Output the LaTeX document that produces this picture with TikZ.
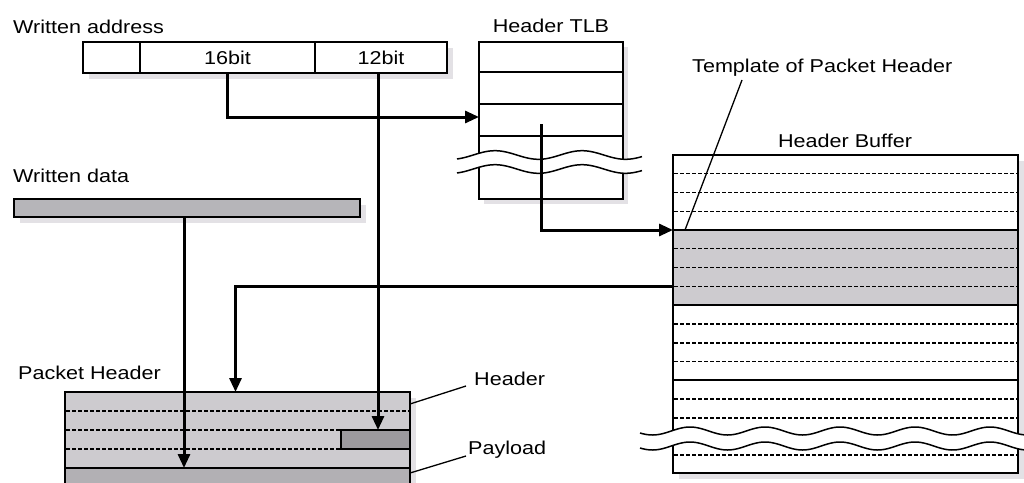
\documentclass[tikz,border=0pt]{standalone}
\usepackage{fontspec}
\setmainfont[FakeStretch=1.16]{Liberation Sans}
\usetikzlibrary{arrows.meta}
\definecolor{shadowc}{RGB}{227,225,229}
\definecolor{bandc}{RGB}{205,203,207}
\definecolor{payc}{RGB}{178,176,180}
\definecolor{datac}{RGB}{182,181,185}
\definecolor{smallc}{RGB}{156,154,158}
\tikzset{
  lbl/.style={font=\fontsize{18.6pt}{22pt}\selectfont, inner sep=0pt},
  box/.style={draw=black, line width=1.7pt, inner sep=0pt, outer sep=0pt, anchor=north west},
  dline/.style={line width=1.2pt, dash pattern=on 3.5pt off 2.5pt},
  flow/.style={draw=black, line width=3pt, -{Triangle[length=14pt,width=12pt]}},
  leader/.style={line width=1.3pt},
  wave/.style={line width=1.5pt}
}
\begin{document}
\begin{tikzpicture}[x=1pt,y=-1pt]
\useasboundingbox (0,0) rectangle (1024,482);
\clip (0,0) rectangle (1024,482);
% ---------- shadows ----------
\fill[shadowc] (89,48) rectangle (453,79);
\fill[shadowc] (484,47) rectangle (628,204);
\fill[shadowc] (679,161) rectangle (1024,479);
\fill[shadowc] (20,205) rectangle (366,223);
\fill[shadowc] (71,398) rectangle (416,490);
% ---------- written address ----------
\node[lbl, anchor=base west] (waddrlbl) at (13,33) {Written address};
\node[box, minimum width=57pt, minimum height=31pt, fill=white] (f0) at (83,42) {};
\node[box, minimum width=175pt, minimum height=31pt, fill=white, lbl, text depth=0pt] (f16) at (140,42) {16bit};
\node[box, minimum width=132pt, minimum height=31pt, fill=white, lbl, text depth=0pt] (f12) at (315,42) {12bit};
% ---------- header TLB ----------
\node[lbl, anchor=base] (tlblbl) at (551,32) {Header TLB};
\node[box, minimum width=144pt, minimum height=30pt, fill=white] (tlbr1) at (479,42) {};
\node[box, minimum width=144pt, minimum height=32pt, fill=white] (tlbr2) at (479,72) {};
\node[box, minimum width=144pt, minimum height=32pt, fill=white] (tlbr3) at (479,104) {};
\node[box, minimum width=144pt, minimum height=63pt, fill=white] (tlbr4) at (479,136) {};
% TLB break
\fill[white] plot[domain=457:642, samples=80] (\x,{155-4.3*cos((\x-495)/87*360)})
  -- plot[domain=642:457, samples=80] (\x,{169-4.3*cos((\x-495)/87*360)}) -- cycle;
\draw[wave] plot[domain=457:642, samples=80] (\x,{155-4.3*cos((\x-495)/87*360)});
\draw[wave] plot[domain=457:642, samples=80] (\x,{169-4.3*cos((\x-495)/87*360)});
% ---------- header buffer ----------
\node[lbl, anchor=base] (hbuflbl) at (845,147) {Header Buffer};
\node[box, minimum width=345pt, minimum height=75pt, fill=white] (hb1) at (673,155) {};
\node[box, minimum width=345pt, minimum height=75pt, fill=bandc] (tmpl) at (673,230) {};
\node[box, minimum width=345pt, minimum height=75pt, fill=white] (hb3) at (673,305) {};
\node[box, minimum width=345pt, minimum height=93pt, fill=white] (hb4) at (673,380) {};
\foreach \yy in {173.5,192.3,211.2, 248.8,267.5,286.2, 324,343,361.5, 399,418,455}
  \draw[dline] (674,\yy) -- (1017,\yy);
% buffer break
\fill[white] plot[domain=640:1024, samples=150] (\x,{431-4*cos((\x-690)/75*360)})
  -- plot[domain=1024:640, samples=150] (\x,{446-4*cos((\x-690)/75*360)}) -- cycle;
\draw[wave] plot[domain=640:1024, samples=150] (\x,{431-4*cos((\x-690)/75*360)});
\draw[wave] plot[domain=640:1024, samples=150] (\x,{446-4*cos((\x-690)/75*360)});
\node[lbl, anchor=base west] (tmpllbl) at (692,72) {Template of Packet Header};
\draw[leader] ([xshift=50pt,yshift=-8pt]tmpllbl.base west) -- ([xshift=12pt]tmpl.north west);
% ---------- written data ----------
\node[lbl, anchor=base west] (wdatalbl) at (13,182) {Written data};
\node[box, minimum width=346pt, minimum height=18pt, fill=datac] (wdata) at (14,199) {};
% ---------- packet header ----------
\node[lbl, anchor=base west] (pktlbl) at (18,379) {Packet Header};
\node[box, minimum width=345pt, minimum height=76pt, fill=bandc] (pkt) at (65,392) {};
\node[box, minimum width=345pt, minimum height=30pt, fill=payc] (payload) at (65,468) {};
\foreach \yy in {411,430,449}
  \draw[dline] (66,\yy) -- (409,\yy);
\node[box, minimum width=69pt, minimum height=19pt, fill=smallc] (small) at (341,430) {};
\node[lbl, anchor=base west] (hdrlbl) at (474,385) {Header};
\node[lbl, anchor=base west] (paylbl) at (468,454) {Payload};
\draw[leader] ([yshift=-12pt]pkt.north east) -- ([xshift=-8pt,yshift=-1pt]hdrlbl.base west);
\draw[leader] ([yshift=-5pt]payload.north east) -- ([xshift=-2pt,yshift=-2pt]paylbl.base west);
% ---------- flows ----------
\draw[flow] (f16.south) |- ([yshift=3pt]tlbr3.west);
\draw[flow] ([xshift=-10pt,yshift=-4pt]tlbr3.center) |- (tmpl.north west);
\draw[flow] (f12.south -| 378,0) -- (small.north -| 378,0);
\draw[flow] ([yshift=-19pt]tmpl.west) -| ([xshift=-2pt]pkt.north);
\draw[flow] ([xshift=-3pt]wdata.south) -- ([xshift=-3pt]wdata.south |- payload.north);
\end{tikzpicture}
\end{document}
